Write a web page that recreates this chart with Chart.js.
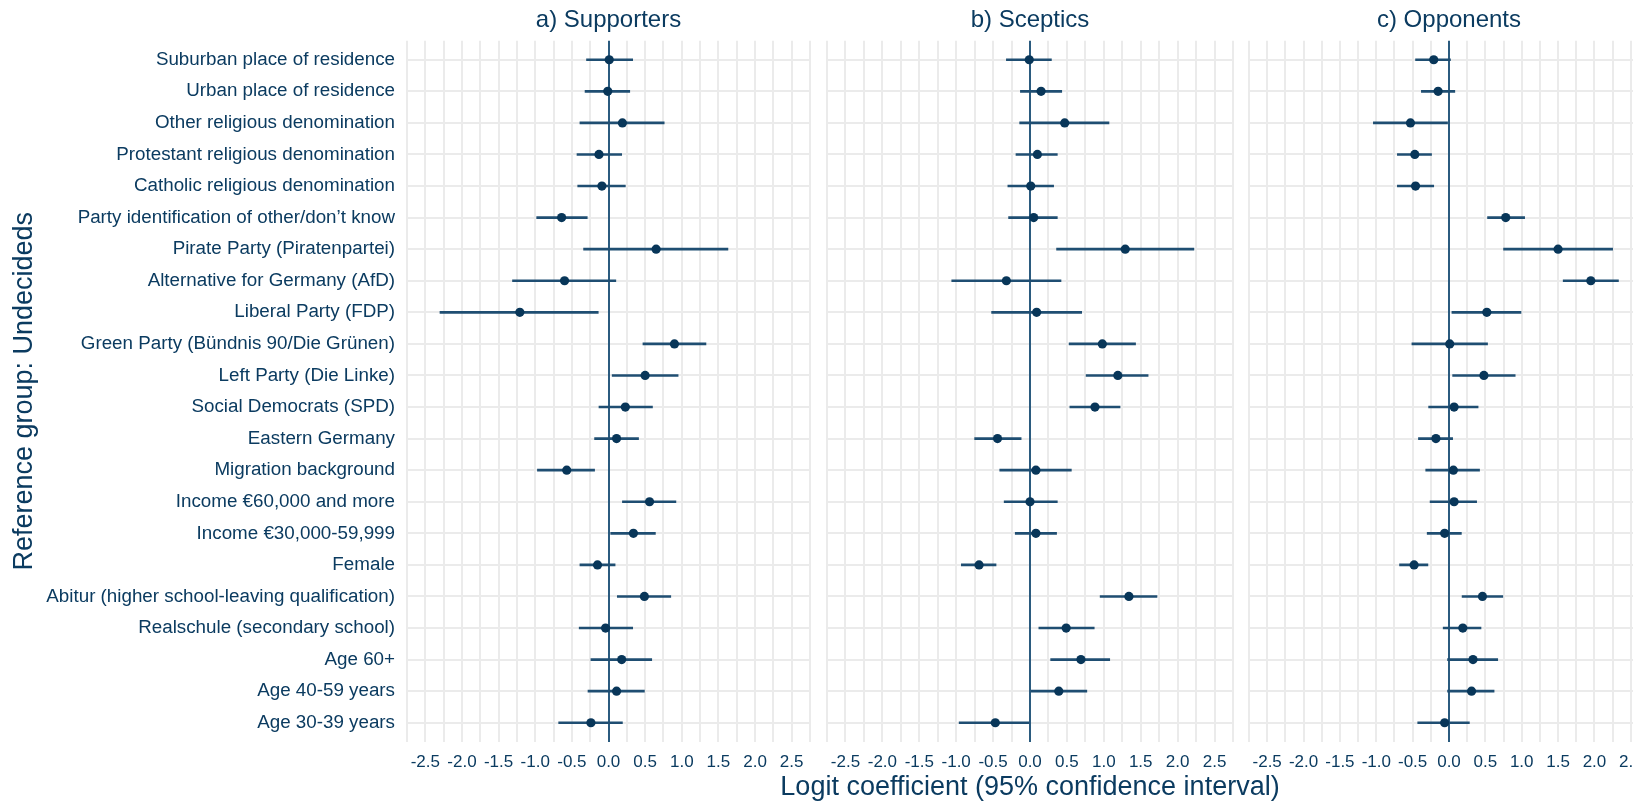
<!DOCTYPE html>
<html>
<head>
<meta charset="utf-8">
<script src="https://cdn.jsdelivr.net/npm/chart.js@4.4.1/dist/chart.umd.min.js"></script>
<style>
  html, body { margin:0; padding:0; background:#fff; overflow:hidden; }
  body { width:1633px; height:804px; position:relative; }
  .panel { position:absolute; top:0; height:804px; }
</style>
</head>
<body>
<div class="panel" style="left:0;width:820px"><canvas id="supChart"></canvas></div>
<div class="panel" style="left:1239px;width:420px"><canvas id="oppChart"></canvas></div>
<div class="panel" style="left:720px;width:620px"><canvas id="scepChart"></canvas></div>
<script>
const categories = [
  'Suburban place of residence',
  'Urban place of residence',
  'Other religious denomination',
  'Protestant religious denomination',
  'Catholic religious denomination',
  'Party identification of other/don\u2019t know',
  'Pirate Party (Piratenpartei)',
  'Alternative for Germany (AfD)',
  'Liberal Party (FDP)',
  'Green Party (Bündnis 90/Die Grünen)',
  'Left Party (Die Linke)',
  'Social Democrats (SPD)',
  'Eastern Germany',
  'Migration background',
  'Income €60,000 and more',
  'Income €30,000-59,999',
  'Female',
  'Abitur (higher school-leaving qualification)',
  'Realschule (secondary school)',
  'Age 60+',
  'Age 40-59 years',
  'Age 30-39 years'
];

const supEst = [0.01,-0.01,0.19,-0.13,-0.09,-0.64,0.65,-0.60,-1.21,0.90,0.50,0.23,0.11,-0.57,0.56,0.34,-0.15,0.49,-0.04,0.18,0.11,-0.24];
const supLo  = [-0.30,-0.32,-0.39,-0.43,-0.42,-0.98,-0.34,-1.31,-2.30,0.47,0.05,-0.13,-0.19,-0.97,0.19,0.03,-0.39,0.12,-0.40,-0.24,-0.28,-0.68];
const supHi  = [0.33,0.29,0.76,0.18,0.23,-0.29,1.63,0.10,-0.14,1.33,0.95,0.60,0.41,-0.19,0.92,0.64,0.09,0.85,0.33,0.59,0.49,0.19];

const scepEst = [-0.01,0.15,0.47,0.10,0.01,0.05,1.29,-0.32,0.09,0.98,1.19,0.88,-0.44,0.08,0.00,0.08,-0.69,1.34,0.49,0.69,0.39,-0.47];
const scepLo  = [-0.32,-0.13,-0.14,-0.19,-0.30,-0.29,0.36,-1.06,-0.52,0.53,0.76,0.54,-0.75,-0.41,-0.35,-0.20,-0.93,0.95,0.12,0.28,0.00,-0.96];
const scepHi  = [0.29,0.43,1.07,0.37,0.32,0.37,2.22,0.42,0.70,1.43,1.60,1.22,-0.12,0.56,0.37,0.36,-0.46,1.72,0.87,1.08,0.77,0.00];

const oppEst = [-0.21,-0.15,-0.53,-0.47,-0.46,0.78,1.50,1.95,0.52,0.01,0.48,0.07,-0.18,0.06,0.07,-0.06,-0.48,0.46,0.19,0.33,0.31,-0.06];
const oppLo  = [-0.46,-0.38,-1.04,-0.71,-0.71,0.53,0.75,1.57,0.04,-0.51,0.05,-0.28,-0.42,-0.32,-0.26,-0.30,-0.68,0.18,-0.08,-0.02,-0.02,-0.43];
const oppHi  = [0.02,0.08,-0.02,-0.24,-0.21,1.04,2.25,2.33,0.99,0.53,0.91,0.40,0.05,0.42,0.38,0.17,-0.29,0.74,0.44,0.67,0.62,0.28];

const xTicks = [-2.5,-2.0,-1.5,-1.0,-0.5,0.0,0.5,1.0,1.5,2.0,2.5];
const xTitle = 'Logit coefficient (95% confidence interval)';
const yTitle = 'Reference group: Undecideds';

const FONT = "'Liberation Sans', Arial, sans-serif";
const TEXT = '#0b3b60';
const POINT = '#083659';
const BAR = '#1f4e72';
const ZERO = '#2b5b7f';
const GRID = '#ebebeb';

// grid every 0.25: the labelled ticks plus the minor lines between/around them
const gridVals = [];
xTicks.forEach(t => { gridVals.push(t - 0.25, t); });
gridVals.push(xTicks[xTicks.length - 1] + 0.25);

// scale titles get squeezed to the scale width, so the shared x title is drawn by hand
const xTitlePlugin = {
  id: 'xTitle',
  afterDraw(chart) {
    const {ctx, chartArea} = chart;
    ctx.save();
    ctx.font = '27px ' + FONT;
    ctx.fillStyle = TEXT;
    ctx.textAlign = 'center';
    ctx.textBaseline = 'middle';
    ctx.fillText(xTitle, (chartArea.left + chartArea.right) / 2, 788);
    ctx.restore();
  }
};

function makePanel(id, title, est, lo, hi, padL, padR, first, showXTitle) {
  new Chart(document.getElementById(id), {
    type: 'bar',
    data: {
      datasets: [
        { type:'scatter', data: est.map((v,i)=>({x:v, y:i})), backgroundColor:POINT, borderWidth:0, pointRadius:4.6, pointHoverRadius:4.6 },
        { type:'bar', data: lo.map((v,i)=>({x:[v, hi[i]], y:i})), backgroundColor:BAR, borderWidth:0, barThickness:2 }
      ]
    },
    plugins: showXTitle ? [xTitlePlugin] : [],
    options: {
      indexAxis:'y',
      responsive:true, maintainAspectRatio:false, animation:false,
      layout:{ padding:{ left:padL, right:padR, top:0, bottom:0 } },
      plugins:{
        legend:{display:false}, tooltip:{enabled:false},
        title:{ display:true, text:title, fullSize:false, color:TEXT, font:{family:FONT, size:24, weight:'normal', lineHeight:1.2}, padding:{top:6,bottom:6} }
      },
      scales:{
        x:{
          type:'linear', min:-2.75, max:2.75, offset:false,
          afterBuildTicks: s => { s.ticks = gridVals.map(v=>({value:v})); },
          afterFit: s => { s.height = 62.3; },
          grid:{ drawTicks:false, offset:false, z:-1, lineWidth:2, color: c => c.tick && c.tick.value === 0 ? ZERO : GRID },
          border:{display:false},
          ticks:{ autoSkip:false, maxRotation:0, padding:10, color:TEXT, font:{family:FONT, size:17},
            callback: v => xTicks.includes(v) ? v.toFixed(1) : '' }
        },
        y:{
          type:'linear', reverse:true, min:-0.6, max:categories.length - 0.4, offset:false,
          afterBuildTicks: s => { s.ticks = categories.map((_,i)=>({value:i})); },
          afterFit: s => { s.width = first ? 407 : 0; },
          grid:{ drawTicks:false, offset:false, z:-2, lineWidth:2, color:GRID },
          border:{display:false},
          ticks:{ display:first, autoSkip:false, padding:12, color:TEXT, font:{family:FONT, size:18.8},
            callback: v => categories[v] },
          title:{ display:first, text:yTitle, color:TEXT,
            font:{family:FONT, size:27, lineHeight:1.2}, padding:{top:8,bottom:0} }
        }
      }
    }
  });
}

makePanel('supChart', 'a) Supporters', supEst, supLo, supHi, 0, 7, true, false);
makePanel('scepChart', 'b) Sceptics', scepEst, scepLo, scepHi, 107, 107, false, true);
makePanel('oppChart', 'c) Opponents', oppEst, oppLo, oppHi, 7, 7, false, false);
</script>
</body>
</html>
